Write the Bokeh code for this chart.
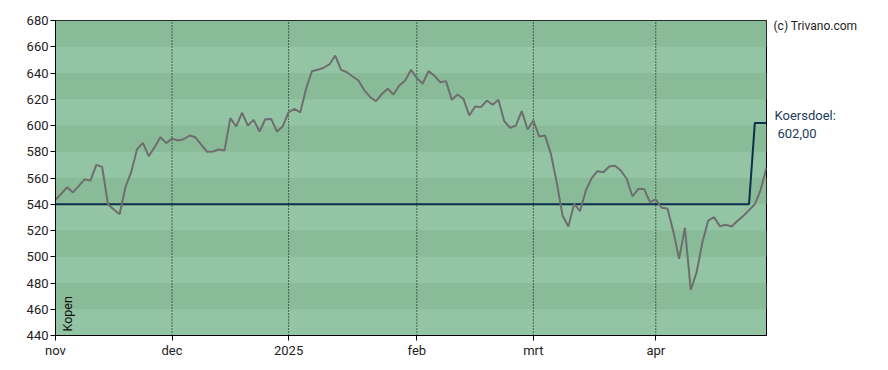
import math
from bokeh.plotting import figure
from bokeh.layouts import row
from bokeh.models import Range1d, FixedTicker, Label
from bokeh.embed import file_html
from bokeh.resources import INLINE

# ---- data ----
price = [
    543.4, 548.0, 553.0, 549.0, 554.0, 559.0, 558.0, 570.0, 568.5, 540.0,
    536.0, 532.4, 553.0, 564.7, 582.0, 586.8, 576.6, 583.5, 591.0, 586.6,
    590.0, 588.6, 589.5, 592.4, 591.0, 585.5, 580.0, 580.2, 581.7, 581.0,
    605.6, 599.2, 609.7, 600.0, 604.3, 595.4, 604.8, 605.0, 595.4, 599.5,
    610.1, 612.7, 610.0, 628.0, 641.4, 642.4, 644.0, 646.5, 653.3, 642.4,
    640.6, 637.3, 634.3, 626.7, 621.6, 618.5, 624.0, 628.0, 623.6, 630.5,
    634.3, 642.4, 636.3, 631.8, 641.4, 638.0, 633.0, 633.8, 619.6, 623.6,
    620.3, 607.6, 614.5, 614.0, 619.0, 615.8, 619.6, 603.3, 598.2, 600.0,
    611.0, 597.0, 603.8, 591.6, 592.4, 578.4, 556.8, 531.4, 523.0, 540.3,
    534.7, 550.5, 559.9, 565.2, 564.4, 568.8, 569.3, 565.7, 559.4, 545.9,
    551.7, 551.7, 541.6, 543.6, 537.3, 536.8, 519.5, 498.4, 522.0, 474.8,
    488.0, 511.0, 527.6, 530.1, 523.3, 524.4, 523.0, 527.2, 531.0, 535.5,
    540.0, 551.0, 568.0,
]
day_index = list(range(len(price)))

# koersdoel (price target) as step keypoints
target_x = [0, 119, 120, 122]
target_y = [540, 540, 602, 602]

month_ticks = [0, 20, 40, 62, 82, 103]
month_labels = ["nov", "dec", "2025", "feb", "mrt", "apr"]
y_ticks = [440, 460, 480, 500, 520, 540, 560, 580, 600, 620, 640, 660, 680]

X_END = 122

# ---- styling / layout ----
LIGHT = "#93c4a3"
DARK = "#8abb99"
FONT = "Roboto"
H = 370
TOP, BOTTOM, LEFT = 20, 35, 55
MAIN_W = 767
SIDE_W = 888 - MAIN_W

p = figure(width=MAIN_W, height=H, output_backend="svg", toolbar_location=None,
           x_range=Range1d(0, X_END), y_range=Range1d(y_ticks[0], y_ticks[-1]),
           min_border_left=LEFT, min_border_right=1, min_border_top=TOP,
           min_border_bottom=BOTTOM)
p.background_fill_color = LIGHT
p.border_fill_color = "white"
p.outline_line_color = "black"
p.outline_line_width = 1
p.grid.visible = False

# alternating horizontal bands
p.quad(left=0, right=X_END, bottom=y_ticks[1:-1:2], top=y_ticks[2::2],
       fill_color=DARK, line_color=None)

# dotted month separators
p.segment(x0=month_ticks[1:], x1=month_ticks[1:],
          y0=y_ticks[0], y1=y_ticks[-1],
          line_color="black", line_width=1, line_dash="1 2")

# target and price lines
p.line(target_x, target_y, line_color="#0c2f4e", line_width=2)
p.line(day_index, price, line_color="#6e6e6e", line_width=2)

# axes
for ax in (p.xaxis, p.yaxis):
    ax.axis_line_color = "black"
    ax.major_tick_line_color = "black"
    ax.major_tick_out = 5
    ax.major_tick_in = 0
    ax.minor_tick_line_color = None
    ax.major_label_text_font = FONT
    ax.major_label_text_font_size = "13px"
    ax.major_label_text_color = "#222222"

p.yaxis.ticker = FixedTicker(ticks=y_ticks)
p.yaxis.major_label_standoff = 2
p.xaxis.ticker = FixedTicker(ticks=month_ticks)
p.xaxis.major_label_overrides = {t: lab for t, lab in zip(month_ticks, month_labels)}
p.xaxis.major_label_standoff = 2

p.add_layout(Label(x=0, y=y_ticks[0], x_offset=12, y_offset=4, angle=math.pi / 2,
                   text="Kopen", text_align="left", text_baseline="alphabetic",
                   text_font=FONT, text_font_size="12.5px", text_color="#111111"))

# ---- side panel with the texts right of the frame (same value scale) ----
per_px = (y_ticks[-1] - y_ticks[0]) / (H - TOP - BOTTOM)
side = figure(width=SIDE_W, height=H, output_backend="svg", toolbar_location=None,
              x_range=Range1d(0, SIDE_W),
              y_range=Range1d(y_ticks[0] - BOTTOM * per_px, y_ticks[-1] + TOP * per_px),
              x_axis_location=None, y_axis_location=None,
              min_border=0)
side.outline_line_color = None
side.background_fill_color = "white"
side.border_fill_color = "white"
side.grid.visible = False

target_txt = f"{target_y[-1]:.2f}".replace(".", ",")
side.add_layout(Label(x=7, y=target_y[-1], y_offset=9,
                      text="Koersdoel:", text_align="left", text_baseline="middle",
                      text_font=FONT, text_font_size="13px", text_color="#1d3b5a"))
side.add_layout(Label(x=10, y=target_y[-1], y_offset=-9,
                      text=target_txt, text_align="left", text_baseline="middle",
                      text_font=FONT, text_font_size="13px", text_color="#1d3b5a"))
side.add_layout(Label(x=6, y=y_ticks[-1], y_offset=11.5,
                      text="(c) Trivano.com", text_align="left", text_baseline="middle",
                      text_font=FONT, text_font_size="12px", text_color="#222222"))

layout = row(p, side, spacing=0)
open("out.html", "w").write(file_html(layout, INLINE))
